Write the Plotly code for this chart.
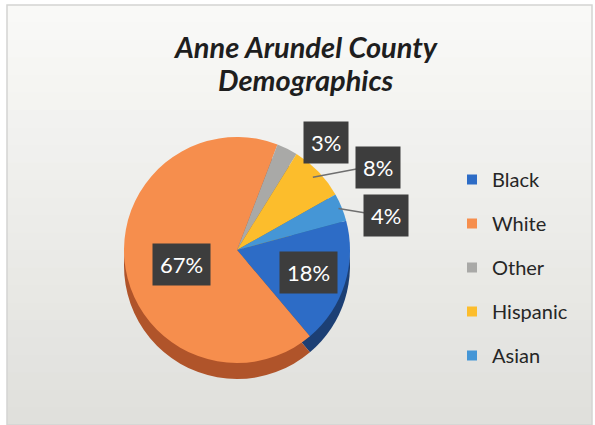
import math
import plotly.graph_objects as go

# Population shares, Anne Arundel County
groups = ["Black", "White", "Other", "Hispanic", "Asian"]
shares = [18, 67, 3, 8, 4]
top_colors = ["#2d6cc6", "#f68e4d", "#a9a9a7", "#fcbd2c", "#4596d6"]
side_colors = ["#1c3f74", "#b0542a", "#6c6c6a", "#a67c1c", "#2a5f8c"]
label_text = [f"{v}%" for v in shares]
title_lines = ["Anne Arundel County", "Demographics"]

START = 75  # degrees clockwise from 12 o'clock where the first slice begins

W, H = 595, 425
cx, cy, R = 237, 250, 113   # pie centre / radius in pixels
DEPTH = 16

def dom(cx_, cy_, r_):
    return dict(x=[(cx_ - r_) / W, (cx_ + r_) / W],
                y=[1 - (cy_ + r_) / H, 1 - (cy_ - r_) / H])

fig = go.Figure()

# darker copy underneath, shifted down, gives the pie its thickness
fig.add_trace(go.Pie(
    labels=groups, values=shares, sort=False, direction="clockwise",
    rotation=START, marker=dict(colors=side_colors, line=dict(width=0)),
    textinfo="none", hoverinfo="skip", showlegend=False,
    domain=dom(cx, cy + DEPTH, R),
))
fig.add_trace(go.Pie(
    labels=groups, values=shares, sort=False, direction="clockwise",
    rotation=START, marker=dict(colors=top_colors, line=dict(width=0)),
    textinfo="none", showlegend=False,
    domain=dom(cx, cy, R),
))

# legend entries (one group each so the gap between rows can be set)
for g, c in zip(groups, top_colors):
    fig.add_trace(go.Scatter(
        x=[None], y=[None], mode="markers", name=g, legendgroup=g,
        marker=dict(symbol="square", size=10, color=c),
    ))

# slice mid-angles from the data
total = sum(shares)
mids = []
acc = START
for v in shares:
    span = 360 * v / total
    mids.append(acc + span / 2)
    acc += span

def pt(angle, frac):
    a = math.radians(angle)
    return cx + frac * R * math.sin(a), cy - frac * R * math.cos(a)

box = dict(font=dict(family="Lato", size=22, color="white"),
           bgcolor="#3d3d3d", borderpad=7, showarrow=False,
           xref="paper", yref="paper")

# inside labels
for i, frac in ((0, 0.66), (1, 0.76)):
    x, y = pt(mids[i], frac)
    fig.add_annotation(x=x / W, y=1 - y / H, text=label_text[i], **box)

# outside labels for the thin slices
outside = {2: (326, 142), 3: (401, 167), 4: (409, 215)}
for i, (bx, by) in outside.items():
    fig.add_annotation(x=bx / W, y=1 - by / H, text=label_text[i], **box)

# leader lines
hx, hy = pt(mids[3], 0.93)
ax_, ay_ = pt(mids[4], 0.97)
fig.add_shape(type="path", xref="paper", yref="paper",
              path=f"M {376/W} {1-167/H} L {367/W} {1-167/H} L {hx/W} {1-hy/H}",
              line=dict(color="#6f6f6f", width=1.5))
fig.add_shape(type="line", xref="paper", yref="paper",
              x0=384 / W, y0=1 - 216 / H, x1=ax_ / W, y1=1 - ay_ / H,
              line=dict(color="#6f6f6f", width=1.5))

# two-line chart title
for line, ty in zip(title_lines, (46, 79)):
    fig.add_annotation(x=306 / W, y=1 - ty / H, xref="paper", yref="paper",
                       text=f"<b><i>{line}</i></b>", showarrow=False,
                       xanchor="center", yanchor="middle",
                       font=dict(family="Lato", size=29, color="#1e1e1e"))

# chart-area background: soft vertical gradient with a thin frame
top_rgb = (249, 249, 247)
bot_rgb = (224, 224, 220)
x0, x1, y0, y1 = 7, 592, 5, 425
n = 24
for k in range(n):
    t = k / (n - 1)
    col = tuple(round(a + (b - a) * t) for a, b in zip(top_rgb, bot_rgb))
    ya = y0 + (y1 - y0) * k / n
    yb = y0 + (y1 - y0) * (k + 1) / n + 0.5
    fig.add_shape(type="rect", xref="paper", yref="paper", layer="below",
                  x0=x0 / W, x1=x1 / W, y0=1 - yb / H, y1=1 - ya / H,
                  fillcolor="rgb(%d,%d,%d)" % col, line=dict(width=0))
fig.add_shape(type="rect", xref="paper", yref="paper", layer="below",
              x0=x0 / W, x1=x1 / W, y0=1 - y1 / H, y1=1 - y0 / H,
              line=dict(color="#d4d4d2", width=1.5))

fig.update_layout(
    width=W, height=H,
    margin=dict(l=0, r=0, t=0, b=0),
    paper_bgcolor="white", plot_bgcolor="rgba(0,0,0,0)",
    xaxis=dict(visible=False), yaxis=dict(visible=False),
    legend=dict(x=452 / W, y=1 - 160 / H, xanchor="left", yanchor="top",
                font=dict(family="Lato", size=20, color="#262626"),
                tracegroupgap=15, bgcolor="rgba(0,0,0,0)", itemclick=False),
    showlegend=True,
)

fig.write_html("out.html")
